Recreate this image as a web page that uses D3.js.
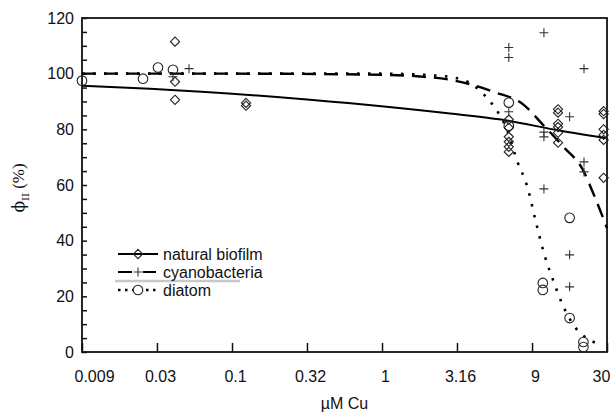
<html>
<head>
<script src="https://d3js.org/d3.v7.min.js"></script>
<style>
body { margin: 0; background: #fff; }
svg { font-family: 'Liberation Sans', Arial, sans-serif; }
</style>
</head>
<body>
<svg id="chart"></svg>
<script>

// Axis ticks (evenly spaced half-decades, labels as printed)
var xTickVals = [0.01, 0.0316, 0.1, 0.316, 1, 3.16, 10, 31.6];
var xTickLabels = ["0.009", "0.03", "0.1", "0.32", "1", "3.16", "9", "30"];
var yTicks = [0, 20, 40, 60, 80, 100, 120];

// Measured points: [uM Cu, phi II %]
var biofilmPts = [
	[0.0417, 111.5], [0.0417, 97.1], [0.0417, 90.6],
	[0.124, 89.5], [0.124, 88.5],
	[7.0, 83.5], [7.0, 80.6], [7.0, 77.3], [7.0, 75.5], [7.0, 73.7], [7.0, 71.9],
	[14.9, 87.2], [14.9, 86.0], [14.9, 82.0], [14.9, 80.8], [14.9, 78.8], [14.9, 75.2],
	[30, 86.5], [30, 85.5], [30, 80.0], [30, 78.0], [30, 76.2], [30, 62.6]
];
var cyanoPts = [
	[0.0404, 98.9], [0.0517, 101.8],
	[7.0, 109.4], [7.0, 105.8], [7.0, 86.3],
	[12.0, 114.7], [12.0, 79.0], [12.0, 77.3], [12.0, 58.6],
	[17.8, 84.5], [17.8, 34.9], [17.8, 23.4],
	[22.2, 101.8], [22.2, 68.3], [22.2, 64.7]
];
var diatomPts = [
	[0.01, 97.5], [0.0255, 98.2], [0.0321, 102.2], [0.0404, 101.4],
	[7.0, 89.6], [7.0, 81.3],
	[11.8, 24.8], [11.8, 22.3],
	[17.8, 48.2], [17.8, 12.2],
	[22.0, 3.6], [22.0, 1.8]
];

// Fitted curves
var biofilmCurve = [
	[0.01, 95.7], [0.0284, 94.6], [0.331, 90.6], [2.84, 85.7],
	[6.23, 83.5], [15.5, 79.5], [31.6, 76.8]
];
var cyanoCurve = [
	[0.01, 100], [0.1, 100], [1, 99.6], [1.79, 99.0], [2.84, 97.8],
	[3.87, 96.2], [5.5, 93.5], [8.8, 88.8], [11.8, 81.7], [16.2, 73.7],
	[21.8, 65.5], [25.5, 57.2], [31.6, 44.5]
];
var diatomCurve = [
	[0.01, 100], [1, 100], [2.44, 99.2], [3.58, 97.5], [4.64, 93.2],
	[5.4, 89.2], [6.8, 79.9], [8.0, 68.3], [9.3, 59.4], [10.6, 46.8],
	[12.2, 34.2], [13.8, 25.9], [15.8, 17.6], [19.3, 9.0], [23.1, 5.0], [27.8, 2.9]
];

var legendNames = ["natural biofilm", "cyanobacteria", "diatom"];

var width = 615, height = 414;
var plotL = 82, plotR = 607, plotT = 18, plotB = 352;

var svg = d3.select("#chart").attr("width", width).attr("height", height);

var xScale = d3.scaleLog().domain([0.01, 31.6]).range([plotL, plotR]);
var yScale = d3.scaleLinear().domain([0, 120]).range([plotB, plotT]);

// frame
svg.append("rect")
	.attr("x", plotL).attr("y", plotT)
	.attr("width", plotR - plotL).attr("height", plotB - plotT)
	.attr("fill", "none").attr("stroke", "#111").attr("stroke-width", 1.8);

// x axis (ticks point inward)
var xAxis = d3.axisBottom(xScale)
	.tickValues(xTickVals)
	.tickSize(-9)
	.tickPadding(19)
	.tickFormat(function (d, i) { return xTickLabels[i]; });
var gx = svg.append("g").attr("transform", "translate(0," + plotB + ")").call(xAxis);
gx.select(".domain").remove();
gx.selectAll("line").attr("stroke", "#111").attr("stroke-width", 1.5);
gx.selectAll("text").attr("font-size", 16).attr("fill", "#111")
	.attr("dx", function (d, i) { return i === 0 ? 12 : (i === xTickVals.length - 1 ? -6 : 3); });

// y axis, minor ticks every 5
var yMinor = d3.range(0, 121, 5);
var gyMinor = svg.append("g").attr("transform", "translate(" + plotL + ",0)")
	.call(d3.axisLeft(yScale).tickValues(yMinor).tickSize(-5).tickFormat(""));
gyMinor.select(".domain").remove();
gyMinor.selectAll("line").attr("stroke", "#111").attr("stroke-width", 1.5);

var gy = svg.append("g").attr("transform", "translate(" + plotL + ",0)")
	.call(d3.axisLeft(yScale).tickValues(yTicks).tickSize(0).tickPadding(8));
gy.select(".domain").remove();
gy.selectAll("text").attr("font-size", 16).attr("fill", "#111");

// axis titles
svg.append("text")
	.attr("x", (plotL + plotR) / 2).attr("y", 409)
	.attr("text-anchor", "middle").attr("font-size", 16).attr("fill", "#111")
	.text("µM Cu");

var yt = svg.append("text")
	.attr("transform", "translate(24,188) rotate(-90)")
	.attr("text-anchor", "middle").attr("font-size", 17).attr("fill", "#111");
yt.append("tspan").attr("font-family", "'DejaVu Serif', serif").text("ϕ");
yt.append("tspan").attr("font-size", 10).attr("font-family", "'DejaVu Serif', serif")
	.attr("dy", 5).text("II");
yt.append("tspan").attr("dy", -5).attr("font-family", "'Liberation Serif', serif").text(" (%)");

// curves
var line = d3.line()
	.x(function (d) { return xScale(d[0]); })
	.y(function (d) { return yScale(d[1]); })
	.curve(d3.curveMonotoneX);

svg.append("path").datum(biofilmCurve).attr("d", line)
	.attr("fill", "none").attr("stroke", "#000").attr("stroke-width", 2);
svg.append("path").datum(cyanoCurve).attr("d", line)
	.attr("fill", "none").attr("stroke", "#000").attr("stroke-width", 2.4)
	.attr("stroke-dasharray", "14,8");
// dot period is half the dash period, so dots hide inside dashes on the shared plateau
svg.append("path").datum(diatomCurve).attr("d", line)
	.attr("fill", "none").attr("stroke", "#000").attr("stroke-width", 2.6)
	.attr("stroke-dasharray", "2.5,8.5");

// markers
function diamond(sel) {
	sel.append("path")
		.attr("d", "M0,-4.6L4.6,0L0,4.6L-4.6,0Z")
		.attr("fill", "none").attr("stroke", "#222").attr("stroke-width", 1.1);
}
function plus(sel) {
	sel.append("path")
		.attr("d", "M-4.5,0H4.5M0,-4.5V4.5")
		.attr("fill", "none").attr("stroke", "#333").attr("stroke-width", 1.1);
}
function circle(sel) {
	sel.append("circle").attr("r", 4.8)
		.attr("fill", "none").attr("stroke", "#222").attr("stroke-width", 1.1);
}

function drawPoints(data, shape) {
	svg.append("g").selectAll("g").data(data).enter().append("g")
		.attr("transform", function (d) {
			return "translate(" + xScale(d[0]) + "," + yScale(d[1]) + ")";
		})
		.call(shape);
}
drawPoints(biofilmPts, diamond);
drawPoints(cyanoPts, plus);
drawPoints(diatomPts, circle);

// legend
var legend = svg.append("g");
var legX0 = 118, legX1 = 158, legY0 = 254, legStep = 18;
var legDash = [null, "14,10", "2.5,4.5"];
var legShapes = [diamond, plus, circle];

// faint scan streak under the legend
legend.append("line").attr("x1", 115).attr("x2", 240).attr("y1", 281).attr("y2", 281)
	.attr("stroke", "#c8c8c8").attr("stroke-width", 2.5);

legendNames.forEach(function (name, i) {
	var y = legY0 + i * legStep;
	var ln = legend.append("line")
		.attr("x1", legX0).attr("x2", legX1).attr("y1", y).attr("y2", y)
		.attr("stroke", "#000").attr("stroke-width", i === 2 ? 2.4 : 1.8);
	if (legDash[i]) { ln.attr("stroke-dasharray", legDash[i]); }
	var m = legend.append("g").attr("transform", "translate(" + (legX0 + legX1) / 2 + "," + y + ")");
	m.append("rect").attr("x", -5).attr("y", -5).attr("width", 10).attr("height", 10)
		.attr("fill", i === 0 ? "none" : "#fff");
	legShapes[i](m);
	legend.append("text")
		.attr("x", legX1 + 5).attr("y", y + 6)
		.attr("font-size", 16).attr("fill", "#111")
		.text(name);
});

</script>
</body>
</html>
